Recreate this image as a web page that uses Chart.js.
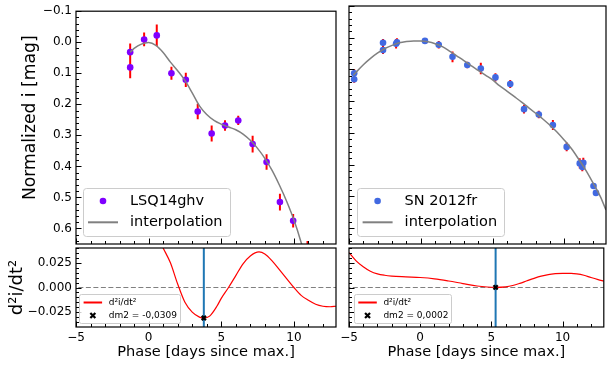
<!DOCTYPE html>
<html><head><meta charset="utf-8">
<script src="https://cdn.jsdelivr.net/npm/chart.js@4.4.1/dist/chart.umd.min.js"></script>
<style>
html,body{margin:0;padding:0;background:#fff;}
body{width:610px;height:370px;position:relative;overflow:hidden;}
canvas{position:absolute;left:0;top:0;}
</style></head><body>
<canvas id="tl" width="610" height="370"></canvas>
<canvas id="tr" width="610" height="370"></canvas>
<canvas id="bl" width="610" height="370"></canvas>
<canvas id="br" width="610" height="370"></canvas>
<script>
// ---------------- data ----------------
const xTickValues = [-5, 0, 5, 10];
const xTickLabels = ['\u22125', '0', '5', '10'];
const magTickValues = [-0.1, 0, 0.1, 0.2, 0.3, 0.4, 0.5, 0.6];
const magTickLabels = ['\u22120.1', '0.0', '0.1', '0.2', '0.3', '0.4', '0.5', '0.6'];
const d2TickValues = [-0.025, 0, 0.025];
const d2TickLabels = ['\u22120.025', '0.000', '0.025'];

// LSQ14ghv photometry
const phaseLSQ = [-1.27, -1.27, -0.31, 0.56, 1.57, 2.56, 3.38, 4.34, 5.26, 6.17, 7.16, 8.12, 9.04, 9.95, 10.94];
const magLSQ   = [0.032, 0.081, -0.009, -0.022, 0.100, 0.121, 0.223, 0.294, 0.268, 0.252, 0.328, 0.386, 0.515, 0.575, 0.675];
const errLSQ   = [0.028, 0.035, 0.022, 0.035, 0.021, 0.023, 0.025, 0.026, 0.017, 0.015, 0.027, 0.025, 0.027, 0.022, 0.035];
// LSQ14ghv interpolation
const curvePhaseLSQ = [-1.27, -1.0, -0.5, 0.0, 0.5, 1.0, 1.5, 2.0, 2.5, 3.0, 3.5, 4.0, 4.5, 5.0, 5.5, 6.0, 6.5, 7.0, 7.5, 8.0, 8.5, 9.0, 9.5, 10.0, 10.5, 11.0];
const curveMagLSQ   = [0.032, 0.020, 0.006, 0.001, 0.010, 0.033, 0.064, 0.092, 0.123, 0.163, 0.205, 0.233, 0.252, 0.264, 0.273, 0.282, 0.296, 0.316, 0.342, 0.374, 0.413, 0.460, 0.512, 0.572, 0.645, 0.730];
// LSQ14ghv second derivative
const d2PhaseLSQ = [0.5, 1.0, 1.5, 2.0, 2.5, 3.0, 3.5, 3.8, 4.2, 4.7, 5.0, 5.5, 6.0, 6.5, 7.0, 7.6, 8.0, 8.5, 9.0, 9.5, 10.0, 10.5, 11.0, 11.5, 12.0, 12.5, 12.9];
const d2LSQ      = [0.056, 0.040, 0.025, 0.0035, -0.015, -0.025, -0.030, -0.0309, -0.029, -0.019, -0.011, 0.0, 0.012, 0.024, 0.032, 0.036, 0.034, 0.027, 0.018, 0.009, 0.0, -0.008, -0.013, -0.017, -0.019, -0.0195, -0.019];
const maxPhaseLSQ = [3.8];
const dm2LSQ = [-0.0309];
const dm2TextLSQ = 'dm2 = -0,0309';

// SN 2012fr photometry
const phaseSN = [-4.64, -4.64, -2.63, -2.63, -1.72, -1.66, 0.29, 1.25, 2.21, 3.24, 4.18, 5.20, 6.23, 7.19, 8.22, 9.20, 10.16, 11.07, 11.25, 11.32, 12.03, 12.20];
const magSN   = [0.112, 0.131, 0.016, 0.039, 0.019, 0.014, 0.010, 0.022, 0.060, 0.086, 0.097, 0.125, 0.146, 0.225, 0.242, 0.275, 0.344, 0.396, 0.407, 0.394, 0.467, 0.489];
const errSN   = [0.0126, 0.0105, 0.012, 0.012, 0.015, 0.012, 0.008, 0.012, 0.017, 0.0105, 0.018, 0.013, 0.0126, 0.014, 0.012, 0.016, 0.014, 0.016, 0.014, 0.016, 0.008, 0.008];
// SN 2012fr interpolation
const curvePhaseSN = [-4.7, -4.0, -3.5, -3.0, -2.5, -2.0, -1.5, -1.0, -0.5, 0.0, 0.5, 1.0, 1.5, 2.0, 2.5, 3.0, 3.5, 4.0, 4.5, 5.0, 5.5, 6.0, 6.5, 7.0, 7.5, 8.0, 8.5, 9.0, 9.5, 10.0, 10.5, 11.0, 11.5, 12.0, 12.5, 12.9];
const curveMagSN   = [0.118, 0.085, 0.065, 0.048, 0.034, 0.024, 0.016, 0.012, 0.010, 0.010, 0.013, 0.019, 0.028, 0.042, 0.057, 0.072, 0.088, 0.103, 0.118, 0.133, 0.152, 0.168, 0.185, 0.202, 0.220, 0.238, 0.256, 0.276, 0.298, 0.323, 0.350, 0.383, 0.418, 0.458, 0.500, 0.543];
// SN 2012fr second derivative
const d2PhaseSN = [-5.0, -4.5, -4.0, -3.5, -3.0, -2.5, -2.0, -1.0, 0.0, 1.0, 2.0, 3.0, 4.0, 4.7, 5.3, 6.0, 6.5, 7.0, 7.5, 8.0, 8.5, 9.0, 9.5, 10.0, 10.6, 11.0, 11.5, 12.0, 12.5, 12.9];
const d2SN      = [0.0354, 0.027, 0.021, 0.0165, 0.0138, 0.0124, 0.0116, 0.0108, 0.0101, 0.0088, 0.0066, 0.0040, 0.0015, 0.0005, 0.0002, 0.0007, 0.0020, 0.0042, 0.0068, 0.0093, 0.0115, 0.0131, 0.0140, 0.0144, 0.0143, 0.0138, 0.0124, 0.0101, 0.0080, 0.0065];
const maxPhaseSN = [5.3];
const dm2SN = [0.0002];
const dm2TextSN = 'dm2 = 0,0002';

// ---------------- helpers ----------------
const X_MIN = -5, X_MAX = 12.9;
const MAG_MIN = -0.1, MAG_MAX = 0.65;
const D2_MIN = -0.04, D2_MAX = 0.04;
const FONT = 'DejaVu Sans';
Chart.defaults.font.family = FONT;
Chart.defaults.color = '#000';

const pts = (xs, ys) => xs.map((x, i) => ({x: x, y: ys[i]}));
const errSegs = (xs, ys, es) => {
  const out = [];
  xs.forEach((x, i) => { out.push({x: x, y: ys[i] - es[i]}, {x: x, y: ys[i] + es[i]}, {x: x, y: null}); });
  return out;
};
const range = (a, b, s) => { const r = []; for (let v = a; v <= b + 1e-9; v += s) r.push(+v.toFixed(5)); return r; };
const xMinor = range(-5, 13, 1).filter(v => xTickValues.indexOf(v) < 0);
const magMinor = range(-0.1, 0.64, 0.02);
const d2Minor = range(-0.04, 0.04, 0.005);

const frameTicks = {
  id: 'frameTicks',
  afterDatasetsDraw(chart, args, o) {
    if (!o || !o.xMajor) return;
    const ctx = chart.ctx, a = chart.chartArea;
    const xs = chart.scales.x, ys = chart.scales.y;
    ctx.save();
    ctx.strokeStyle = '#000'; ctx.lineWidth = 1;
    const line = (x1, y1, x2, y2) => { ctx.beginPath(); ctx.moveTo(x1, y1); ctx.lineTo(x2, y2); ctx.stroke(); };
    const xt = (vals, len) => vals.forEach(v => {
      const p = Math.round(xs.getPixelForValue(v)) + 0.5;
      if (p < a.left || p > a.right) return;
      line(p, a.bottom, p, a.bottom - len);
    });
    const yt = (vals, len) => vals.forEach(v => {
      const p = Math.round(ys.getPixelForValue(v)) + 0.5;
      if (p < a.top || p > a.bottom) return;
      line(a.left, p, a.left + len, p);
    });
    xt(o.xMinor, 3); xt(o.xMajor, 5.5); yt(o.yMinor, 3); yt(o.yMajor, 5.5);
    ctx.lineWidth = 1.2;
    ctx.strokeRect(a.left, a.top, a.right - a.left, a.bottom - a.top);
    ctx.restore();
  }
};

function drawX(ctx, cx, cy, r, lw) {
  ctx.save(); ctx.strokeStyle = '#000'; ctx.lineWidth = lw; ctx.lineCap = 'butt';
  ctx.beginPath(); ctx.moveTo(cx - r, cy - r); ctx.lineTo(cx + r, cy + r);
  ctx.moveTo(cx - r, cy + r); ctx.lineTo(cx + r, cy - r); ctx.stroke(); ctx.restore();
}

const legendBox = {
  id: 'legendBox',
  afterDraw(chart, args, o) {
    if (!o || !o.items) return;
    const ctx = chart.ctx, a = chart.chartArea;
    ctx.save();
    ctx.font = o.fontSize + 'px "' + FONT + '"';
    const tw = Math.max.apply(null, o.items.map(it => ctx.measureText(it.text).width));
    const w = o.padL + o.handle + o.gap + tw + o.padR;
    const h = o.height;
    const x0 = a.left + o.dx, y0 = a.bottom - o.dy - h;
    ctx.beginPath();
    ctx.roundRect(Math.round(x0) + 0.5, Math.round(y0) + 0.5, Math.round(w), Math.round(h), o.radius);
    ctx.fillStyle = 'rgba(255,255,255,0.8)'; ctx.fill();
    ctx.strokeStyle = '#cccccc'; ctx.lineWidth = 1; ctx.stroke();
    o.items.forEach((it, i) => {
      const cy = y0 + o.rowY[i];
      const hx = x0 + o.padL;
      if (it.kind === 'line') {
        ctx.strokeStyle = it.color; ctx.lineWidth = it.width;
        ctx.beginPath(); ctx.moveTo(hx, cy); ctx.lineTo(hx + o.handle, cy); ctx.stroke();
      } else if (it.kind === 'dot') {
        ctx.fillStyle = it.color; ctx.beginPath(); ctx.arc(hx + o.handle / 2, cy, it.r, 0, Math.PI * 2); ctx.fill();
      } else if (it.kind === 'x') {
        drawX(ctx, hx + o.handle / 2, cy, 2.5, 2.2);
      }
      ctx.fillStyle = '#000'; ctx.textBaseline = 'middle'; ctx.textAlign = 'left';
      ctx.fillText(it.text, hx + o.handle + o.gap, cy);
    });
    ctx.restore();
  }
};
Chart.register(frameTicks, legendBox);

function xScale(show) {
  const s = {
    type: 'linear', min: X_MIN, max: X_MAX, display: show,
    afterBuildTicks: sc => { sc.ticks = xTickValues.map(v => ({value: v})); },
    ticks: { callback: v => xTickLabels[xTickValues.indexOf(v)], padding: 4, font: {size: 12}, color: '#000', maxRotation: 0, autoSkip: false },
    grid: { display: false, drawTicks: false },
    border: { display: false },
    title: { display: true, text: 'Phase [days since max.]', font: {size: 14.6}, color: '#000', padding: {top: 0, bottom: 8.8} }
  };
  if (show) s.afterFit = sc => { sc.height = 43; };
  return s;
}
function yScale(show, top) {
  const vals = top ? magTickValues : d2TickValues;
  const labs = top ? magTickLabels : d2TickLabels;
  const s = {
    type: 'linear', display: show,
    min: top ? MAG_MIN : D2_MIN, max: top ? MAG_MAX : D2_MAX, reverse: top,
    afterBuildTicks: sc => { sc.ticks = vals.map(v => ({value: v})); },
    ticks: { callback: v => labs[vals.indexOf(v)], padding: 4, font: {size: 12}, color: '#000', autoSkip: false },
    grid: { display: false, drawTicks: false },
    border: { display: false },
    title: top
      ? { display: true, text: '   \u2009Normalized i [mag]', font: {size: 17.2}, color: '#000', padding: {top: 20, bottom: 0} }
      : { display: true, text: 'd\u00b2i/dt\u00b2', font: {size: 18}, color: '#000', padding: {top: 6.5, bottom: 0} }
  };
  if (show) s.afterFit = sc => { sc.width = 76; };
  return s;
}
const common = {
  responsive: false, animation: false, devicePixelRatio: 1, events: []
};

function topChart(id, left, xs, ys, es, cxs, cys, color, name, legendDx) {
  return new Chart(document.getElementById(id), {
    type: 'scatter',
    data: { datasets: [
      { type: 'line', label: 'interpolation', data: pts(cxs, cys), borderColor: '#808080', borderWidth: 1.5,
        pointRadius: 0, cubicInterpolationMode: 'monotone', fill: false, order: 0 },
      { type: 'scatter', label: name, data: pts(xs, ys), backgroundColor: color, borderColor: color,
        borderWidth: 0, pointRadius: 3.3, order: 1 },
      { type: 'line', label: 'errors', data: errSegs(xs, ys, es), borderColor: '#ff0000', borderWidth: 2,
        pointRadius: 0, spanGaps: false, tension: 0, fill: false, order: 2 }
    ]},
    options: Object.assign({}, common, {
      layout: { padding: left ? {left: 0, top: 6, right: 274, bottom: 126} : {left: 349, top: 6, right: 1, bottom: 126} },
      scales: { x: xScale(false), y: yScale(left, true) },
      plugins: {
        legend: {display: false}, tooltip: {enabled: false},
        frameTicks: { xMajor: xTickValues, xMinor: xMinor, yMajor: magTickValues, yMinor: magMinor },
        legendBox: { dx: legendDx, dy: 7.3, height: 48.4, padL: 5.3, handle: 30, gap: 12, padR: 7.4, radius: 3,
          fontSize: 14.5, rowY: [12.7, 34],
          items: [ {kind: 'dot', color: color, r: 3.3, text: name},
                   {kind: 'line', color: '#808080', width: 2, text: 'interpolation'} ] }
      }
    })
  });
}

function bottomChart(id, left, dxs, dys, vx, vy, dmText, legendDx) {
  return new Chart(document.getElementById(id), {
    type: 'scatter',
    data: { datasets: [
      { type: 'scatter', label: dmText, data: pts(vx, vy), pointStyle: 'crossRot', pointRadius: 3,
        borderColor: '#000', backgroundColor: '#000', borderWidth: 2.2, order: 0 },
      { type: 'line', label: 'max', data: [{x: vx[0], y: D2_MIN - 1}, {x: vx[0], y: D2_MAX + 1}],
        borderColor: '#1f77b4', borderWidth: 2, pointRadius: 0, order: 1 },
      { type: 'line', label: 'd\u00b2i/dt\u00b2', data: pts(dxs, dys), borderColor: '#ff0000', borderWidth: 1.2,
        pointRadius: 0, cubicInterpolationMode: 'monotone', fill: false, order: 2 },
      { type: 'line', label: 'zero', data: [{x: X_MIN - 5, y: 0}, {x: X_MAX + 5, y: 0}],
        borderColor: '#808080', borderWidth: 1, borderDash: [5, 2.5], pointRadius: 0, order: 3 }
    ]},
    options: Object.assign({}, common, {
      layout: { padding: left ? {left: 0, top: 248, right: 274, bottom: 0} : {left: 349, top: 248, right: 1, bottom: 0} },
      scales: { x: xScale(true), y: yScale(left, false) },
      plugins: {
        legend: {display: false}, tooltip: {enabled: false},
        frameTicks: { xMajor: xTickValues, xMinor: xMinor, yMajor: d2TickValues, yMinor: d2Minor },
        legendBox: { dx: legendDx, dy: 4.5, height: 29, padL: 4.3, handle: 18.5, gap: 6.6, padR: 3, radius: 2,
          fontSize: 9, rowY: [9, 22],
          items: [ {kind: 'line', color: '#ff0000', width: 2, text: 'd\u00b2i/dt\u00b2'},
                   {kind: 'x', text: dmText} ] }
      }
    })
  });
}

topChart('tl', true, phaseLSQ, magLSQ, errLSQ, curvePhaseLSQ, curveMagLSQ, '#7f00ff', 'LSQ14ghv', 6.7);
topChart('tr', false, phaseSN, magSN, errSN, curvePhaseSN, curveMagSN, '#4169e1', 'SN 2012fr', 8.3);
bottomChart('bl', true, d2PhaseLSQ, d2LSQ, maxPhaseLSQ, dm2LSQ, dm2TextLSQ, 3.3);
bottomChart('br', false, d2PhaseSN, d2SN, maxPhaseSN, dm2SN, dm2TextSN, 5);
</script></body></html>
